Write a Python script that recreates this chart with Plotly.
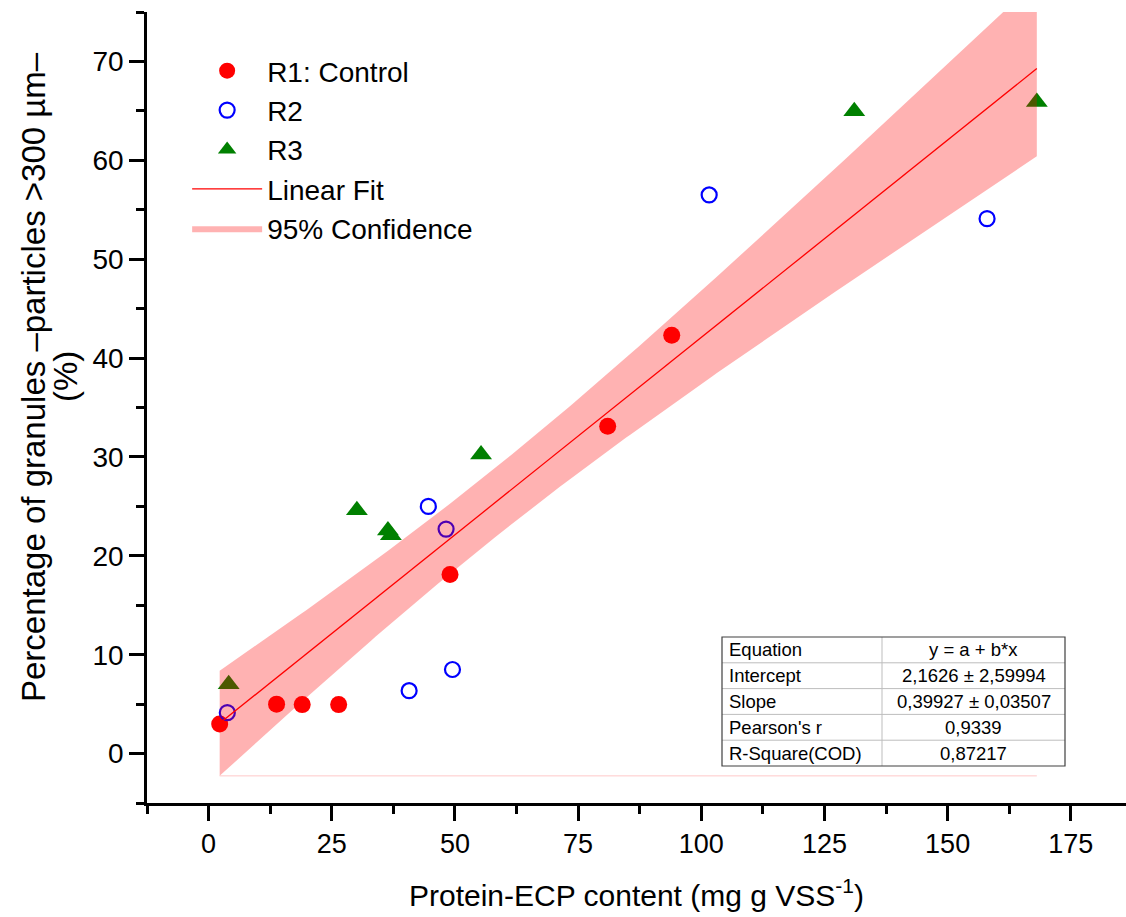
import numpy as np
import plotly.graph_objects as go

# ---- data ----
r1_x = [2.25, 13.8, 19.0, 26.4, 49.0, 81.0, 94.0]
r1_y = [3.0, 5.0, 4.95, 4.95, 18.1, 33.1, 42.3]
r2_x = [3.8, 40.7, 49.5, 44.6, 48.2, 101.6, 158.0]
r2_y = [4.14, 6.36, 8.5, 25.0, 22.7, 56.5, 54.1]
r3_x = [4.08, 30.1, 36.4, 37.0, 55.3, 131.05, 168.1]
r3_y = [7.0, 24.6, 22.56, 22.09, 30.25, 64.97, 65.9]

# fit statistics shown in the table
fit_a, fit_a_se = 2.1626, 2.59994
fit_b, fit_b_se = 0.39927, 0.03507
t_crit = 2.093  # t(0.975, n-2 = 19)

table_labels = ["Equation", "Intercept", "Slope", "Pearson's r", "R-Square(COD)"]
table_values = ["y = a + b*x", "2,1626 ± 2,59994", "0,39927 ± 0,03507", "0,9339", "0,87217"]

x_ticks = [0, 25, 50, 75, 100, 125, 150, 175]
y_ticks = [0, 10, 20, 30, 40, 50, 60, 70]

y_title_lines = ["Percentage of granules –particles >300 µm–", "(%)"]
x_title = "Protein-ECP content (mg g VSS<sup>-1</sup>)"

# ---- derived fit line and 95% confidence band ----
all_x = np.array(r1_x + r2_x + r3_x)
xbar = all_x.mean()
var_mean = fit_a_se**2 - xbar**2 * fit_b_se**2  # s^2 / n
xs = np.linspace(all_x.min(), all_x.max(), 200)
yfit = fit_a + fit_b * xs
half = t_crit * np.sqrt(var_mean + (xs - xbar) ** 2 * fit_b_se**2)
upper = yfit + half
lower = yfit - half

FONT = "Arial, Liberation Sans, sans-serif"

fig = go.Figure()
fig.add_trace(go.Scatter(x=r1_x, y=r1_y, mode="markers", name="R1: Control",
                         marker=dict(symbol="circle", size=17, color="#FF0000"),
                         legendrank=1))
fig.add_trace(go.Scatter(x=r2_x, y=r2_y, mode="markers", name="R2",
                         marker=dict(symbol="circle-open", size=15, color="#0000FF",
                                     line=dict(width=2.2, color="#0000FF")),
                         legendrank=2))
fig.add_trace(go.Scatter(x=r3_x, y=r3_y, mode="markers", name="R3",
                         marker=dict(symbol="triangle-up", size=19, color="#008000"),
                         legendrank=3))
fig.add_trace(go.Scatter(x=xs, y=yfit, mode="lines", name="Linear Fit",
                         line=dict(color="#FF0000", width=1.3), legendrank=4))
fig.add_trace(go.Scatter(x=np.concatenate([xs, xs[::-1]]),
                         y=np.concatenate([upper, lower[::-1]]),
                         mode="lines", fill="toself", name="95% Confidence",
                         fillcolor="rgba(255,0,0,0.3)",
                         line=dict(color="rgba(170,90,90,0.6)", width=0),
                         legendrank=5))
fig.add_trace(go.Scatter(x=[xs[0], xs[-1]], y=[lower[0], lower[0]], mode="lines",
                         line=dict(color="rgba(255,0,0,0.22)", width=1),
                         showlegend=False, hoverinfo="skip"))

# ---- table as shapes + annotations (pixel -> paper) ----
L, T, W, H = 147, 12, 979, 791
def px(p):
    return (p - L) / W
def py(p):
    return (T + H - p) / H

tl, tr, tm, tt, tb = 722, 1065, 882, 637, 766
rh = (tb - tt) / len(table_labels)
shapes = []
for i in range(1, len(table_labels)):
    yy = tt + i * rh
    shapes.append(dict(type="line", xref="paper", yref="paper", x0=px(tl), x1=px(tr),
                       y0=py(yy), y1=py(yy), line=dict(color="#BDBDBD", width=1)))
shapes.append(dict(type="line", xref="paper", yref="paper", x0=px(tm), x1=px(tm),
                   y0=py(tt), y1=py(tb), line=dict(color="#BDBDBD", width=1)))
shapes.append(dict(type="rect", xref="paper", yref="paper", x0=px(tl), x1=px(tr),
                   y0=py(tt), y1=py(tb), line=dict(color="#404040", width=1.2)))
annotations = []
for i, (lab, val) in enumerate(zip(table_labels, table_values)):
    yc = tt + (i + 0.5) * rh
    annotations.append(dict(xref="paper", yref="paper", x=px(tl + 5), y=py(yc), text=lab,
                            xanchor="left", yanchor="middle", showarrow=False,
                            font=dict(size=18.5, family=FONT, color="black")))
    annotations.append(dict(xref="paper", yref="paper", x=px((tm + tr) / 2), y=py(yc), text=val,
                            xanchor="center", yanchor="middle", showarrow=False,
                            font=dict(size=18.5, family=FONT, color="black")))

# y-axis title (two lines placed individually)
for line_text, xc in zip(y_title_lines, [33, 65]):
    annotations.append(dict(xref="paper", yref="paper", x=px(xc), y=py(377), text=line_text,
                            textangle=-90, xanchor="center", yanchor="middle", showarrow=False,
                            font=dict(size=33, family=FONT, color="black")))

fig.update_layout(
    width=1126, height=917,
    margin=dict(l=147, r=0, t=12, b=114),
    plot_bgcolor="white", paper_bgcolor="white",
    font=dict(family=FONT, color="black"),
    legend=dict(x=0.041, y=0.957, xanchor="left", yanchor="top",
                font=dict(size=28, family=FONT), itemwidth=70,
                bgcolor="rgba(0,0,0,0)", tracegroupgap=0),
    shapes=shapes, annotations=annotations,
)
fig.update_xaxes(range=[-12.5, 186.2], tickmode="array", tickvals=x_ticks,
                 ticktext=[str(v) for v in x_ticks],
                 ticks="outside", ticklen=15, tickwidth=2.5, tickcolor="black",
                 showline=True, linewidth=2.5, linecolor="black",
                 showgrid=False, zeroline=False, tickfont=dict(size=27),
                 minor=dict(tickmode="linear", tick0=0, dtick=12.5, ticks="outside",
                            ticklen=8, tickwidth=2.5, tickcolor="black", showgrid=False),
                 title=dict(text=x_title, font=dict(size=30), standoff=27))
fig.update_yaxes(range=[-5, 75], tickmode="array", tickvals=y_ticks,
                 ticktext=[str(v) for v in y_ticks],
                 ticks="outside", ticklen=15, tickwidth=2.5, tickcolor="black",
                 showline=True, linewidth=2.5, linecolor="black",
                 showgrid=False, zeroline=False, tickfont=dict(size=28),
                 minor=dict(tickmode="linear", tick0=0, dtick=5, ticks="outside",
                            ticklen=8, tickwidth=2.5, tickcolor="black", showgrid=False))

fig.write_html("out.html")
